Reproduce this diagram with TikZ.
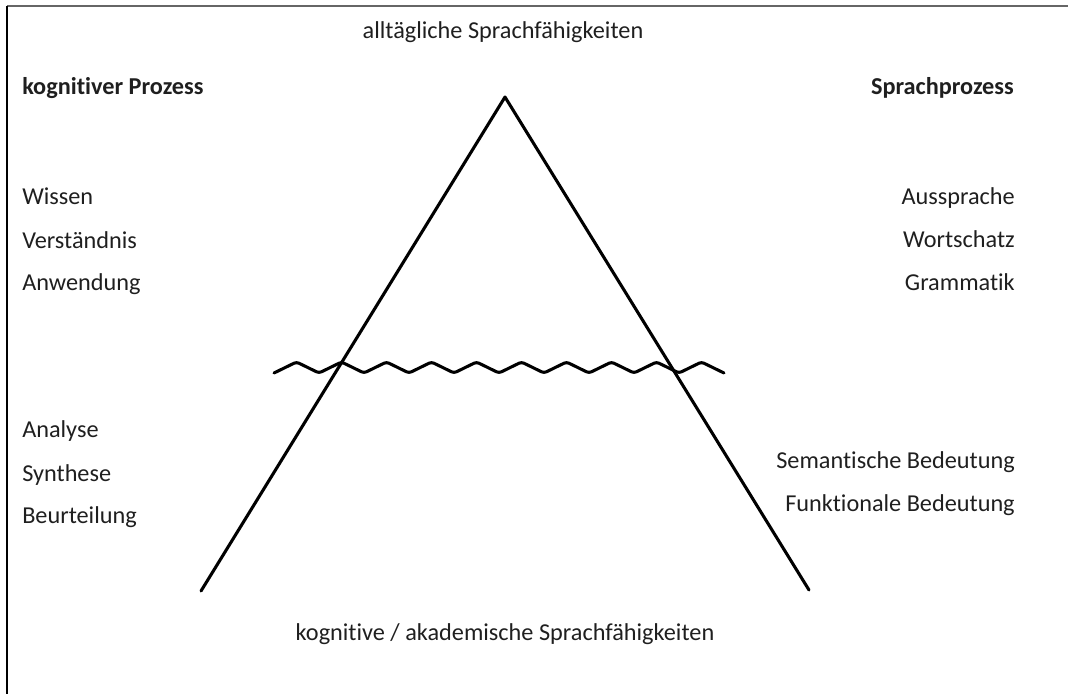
\documentclass[tikz,border=0pt]{standalone}
\usepackage{fontspec}
\setmainfont{Carlito}[Ligatures={NoCommon}]
\begin{document}
\begin{tikzpicture}[x=0.75pt,y=-0.75pt,
  lbl/.style={inner sep=0pt, font=\fontsize{18.2}{21}\selectfont, text=black!88},
  lft/.style={lbl, anchor=base west},
  rgt/.style={lbl, anchor=base east},
  ctr/.style={lbl, anchor=base},
  thick line/.style={line width=2.3pt, line cap=round, line join=round}]
\useasboundingbox (0,0) rectangle (1068,694);
% frame
\draw[black!60, line width=1.5pt] (7,6) -- (1068,6);
\draw[black, line width=1.1pt] (7,6) -- (7,694);
% titles
\node[ctr] (top) at (503,38) {alltägliche Sprachfähigkeiten};
\node[ctr] (bot) at (505,640) {kognitive / akademische Sprachfähigkeiten};
\node[lft, font=\fontsize{18.2}{21}\selectfont\bfseries] (kp) at (22,94) {kognitiver Prozess};
\node[rgt, font=\fontsize{18.2}{21}\selectfont\bfseries] (sp) at (1014,94) {Sprachprozess};
% left column
\node[lft] (l1) at (22,204) {Wissen};
\node[lft] (l2) at (22,248) {Verständnis};
\node[lft] (l3) at (22,290) {Anwendung};
\node[lft] (l4) at (22,437) {Analyse};
\node[lft] (l5) at (22,481) {Synthese};
\node[lft] (l6) at (22,523) {Beurteilung};
% right column
\node[rgt] (r1) at (1015,204) {Aussprache};
\node[rgt] (r2) at (1015,247) {Wortschatz};
\node[rgt] (r3) at (1015,290) {Grammatik};
\node[rgt] (r4) at (1015,468) {Semantische Bedeutung};
\node[rgt] (r5) at (1015,511) {Funktionale Bedeutung};
% triangle
\coordinate (apex) at (505,97);
\coordinate (bl) at (201,591);
\coordinate (br) at (809,590);
\draw[thick line] (bl) -- (apex) -- (br);
% wave
\coordinate (w0) at (274,373);
\draw[thick line, rounded corners=2pt] (w0) \foreach \i in {0,...,9} { -- ++(22.5,-11) -- ++(22.5,11) };
\end{tikzpicture}
\end{document}
